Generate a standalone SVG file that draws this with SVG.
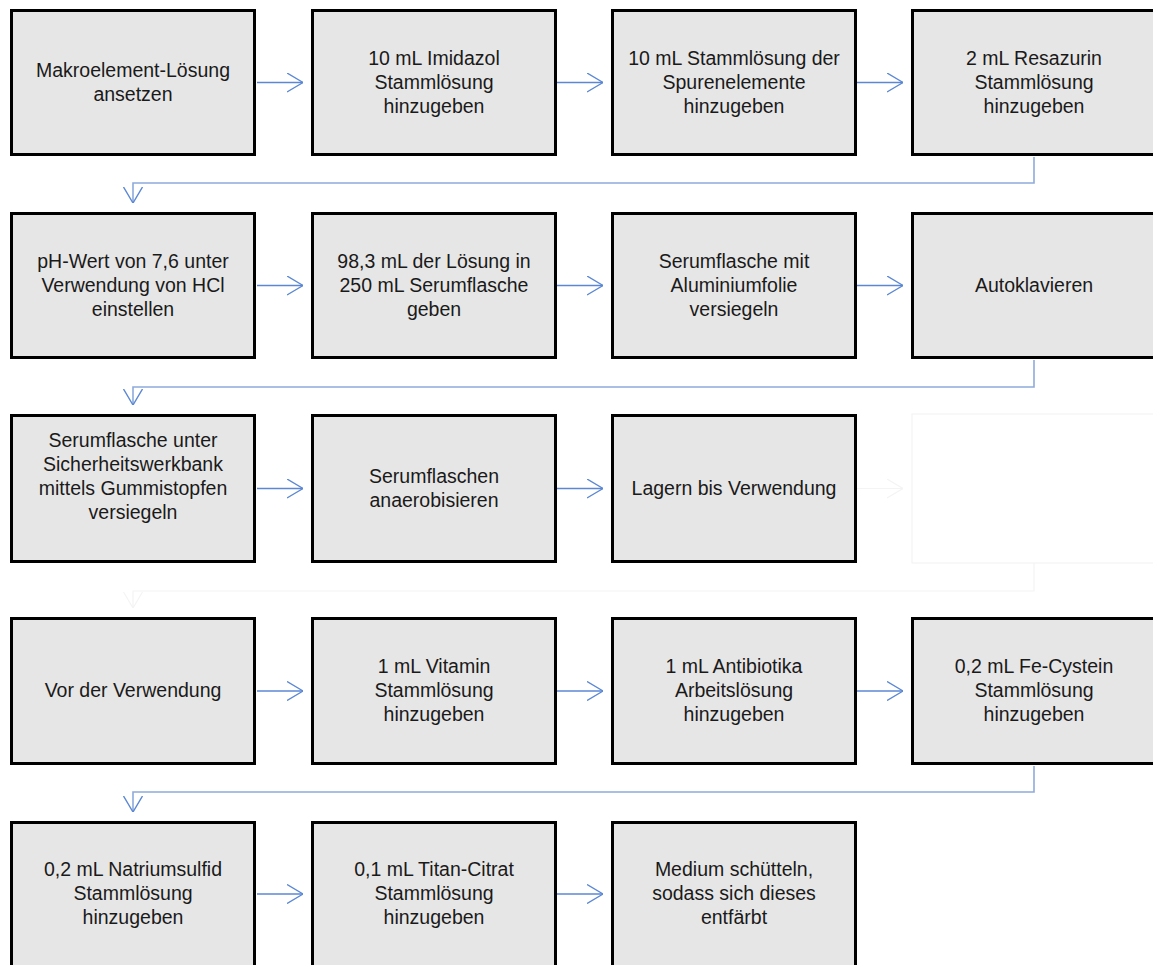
<svg xmlns="http://www.w3.org/2000/svg" width="1153" height="965" viewBox="0 0 1153 965">
<style>
.box{fill:#e7e6e6;stroke:#000;stroke-width:3}
.lbl{font-family:"Liberation Sans",Arial,sans-serif;font-size:19.5px;fill:#1a1a1a;text-anchor:middle}
.con{fill:none;stroke:#5b87d4;stroke-width:1.4}
.wrap{fill:none;stroke:#8eaadc;stroke-width:1.6}
.ghost{fill:none;stroke:#f4f4f4;stroke-width:1.2}
</style>
<defs>
<marker id="ah" viewBox="0 0 16 20" refX="16" refY="10" markerWidth="16" markerHeight="20" markerUnits="userSpaceOnUse" orient="auto">
<path d="M0,0.5 L16,10 L0,19.5" fill="none" stroke="#5b87d4" stroke-width="1.4"/>
</marker>
<marker id="ahg" viewBox="0 0 16 20" refX="16" refY="10" markerWidth="16" markerHeight="20" markerUnits="userSpaceOnUse" orient="auto">
<path d="M0,0.5 L16,10 L0,19.5" fill="none" stroke="#f4f4f4" stroke-width="1.2"/>
</marker>
</defs>

<g id="connectors">
<line class="con" x1="257" y1="82.5" x2="303" y2="82.5" marker-end="url(#ah)"/>
<line class="con" x1="557" y1="82.5" x2="603" y2="82.5" marker-end="url(#ah)"/>
<line class="con" x1="857" y1="82.5" x2="903" y2="82.5" marker-end="url(#ah)"/>
<path class="wrap" d="M1034,157 V183 H133 V203" marker-end="url(#ah)"/>
<line class="con" x1="257" y1="285.5" x2="303" y2="285.5" marker-end="url(#ah)"/>
<line class="con" x1="557" y1="285.5" x2="603" y2="285.5" marker-end="url(#ah)"/>
<line class="con" x1="857" y1="285.5" x2="903" y2="285.5" marker-end="url(#ah)"/>
<path class="wrap" d="M1034,360 V387 H133 V405" marker-end="url(#ah)"/>
<line class="con" x1="257" y1="488.5" x2="303" y2="488.5" marker-end="url(#ah)"/>
<line class="con" x1="557" y1="488.5" x2="603" y2="488.5" marker-end="url(#ah)"/>
<line class="ghost" x1="857" y1="488.5" x2="903" y2="488.5" marker-end="url(#ahg)"/>
<path class="ghost" d="M1034,563 V591 H133 V608" marker-end="url(#ahg)"/>
<line class="con" x1="257" y1="691" x2="303" y2="691" marker-end="url(#ah)"/>
<line class="con" x1="557" y1="691" x2="603" y2="691" marker-end="url(#ah)"/>
<line class="con" x1="857" y1="691" x2="903" y2="691" marker-end="url(#ah)"/>
<path class="wrap" d="M1034,766 V792 H133 V812" marker-end="url(#ah)"/>
<line class="con" x1="257" y1="894" x2="303" y2="894" marker-end="url(#ah)"/>
<line class="con" x1="557" y1="894" x2="603" y2="894" marker-end="url(#ah)"/>
</g>

<g id="n1"><rect class="box" x="11.5" y="10.5" width="243" height="144"/>
<text class="lbl"><tspan x="133" y="76.5">Makroelement-Lösung</tspan><tspan x="133" y="100.5">ansetzen</tspan></text></g>
<g id="n2"><rect class="box" x="312.5" y="10.5" width="243" height="144"/>
<text class="lbl"><tspan x="434" y="64.5">10 mL Imidazol</tspan><tspan x="434" y="88.5">Stammlösung</tspan><tspan x="434" y="112.5">hinzugeben</tspan></text></g>
<g id="n3"><rect class="box" x="612.5" y="10.5" width="243" height="144"/>
<text class="lbl"><tspan x="734" y="64.5">10 mL Stammlösung der</tspan><tspan x="734" y="88.5">Spurenelemente</tspan><tspan x="734" y="112.5">hinzugeben</tspan></text></g>
<g id="n4"><rect class="box" x="912.5" y="10.5" width="243" height="144"/>
<text class="lbl"><tspan x="1034" y="64.5">2 mL Resazurin</tspan><tspan x="1034" y="88.5">Stammlösung</tspan><tspan x="1034" y="112.5">hinzugeben</tspan></text></g>

<g id="n5"><rect class="box" x="11.5" y="213.5" width="243" height="144"/>
<text class="lbl"><tspan x="133" y="267.5">pH-Wert von 7,6 unter</tspan><tspan x="133" y="291.5">Verwendung von HCl</tspan><tspan x="133" y="315.5">einstellen</tspan></text></g>
<g id="n6"><rect class="box" x="312.5" y="213.5" width="243" height="144"/>
<text class="lbl"><tspan x="434" y="267.5">98,3 mL der Lösung in</tspan><tspan x="434" y="291.5">250 mL Serumflasche</tspan><tspan x="434" y="315.5">geben</tspan></text></g>
<g id="n7"><rect class="box" x="612.5" y="213.5" width="243" height="144"/>
<text class="lbl"><tspan x="734" y="267.5">Serumflasche mit</tspan><tspan x="734" y="291.5">Aluminiumfolie</tspan><tspan x="734" y="315.5">versiegeln</tspan></text></g>
<g id="n8"><rect class="box" x="912.5" y="213.5" width="243" height="144"/>
<text class="lbl"><tspan x="1034" y="291.5">Autoklavieren</tspan></text></g>

<g id="n9"><rect class="box" x="11.5" y="415.5" width="243" height="146"/>
<text class="lbl"><tspan x="133" y="446.5">Serumflasche unter</tspan><tspan x="133" y="470.5">Sicherheitswerkbank</tspan><tspan x="133" y="494.5">mittels Gummistopfen</tspan><tspan x="133" y="518.5">versiegeln</tspan></text></g>
<g id="n10"><rect class="box" x="312.5" y="415.5" width="243" height="146"/>
<text class="lbl"><tspan x="434" y="482.5">Serumflaschen</tspan><tspan x="434" y="506.5">anaerobisieren</tspan></text></g>
<g id="n11"><rect class="box" x="612.5" y="415.5" width="243" height="146"/>
<text class="lbl"><tspan x="734" y="494.5">Lagern bis Verwendung</tspan></text></g>
<g id="n12"><rect class="ghost" x="912" y="414" width="250" height="149"/></g>

<g id="n13"><rect class="box" x="11.5" y="618.5" width="243" height="145"/>
<text class="lbl"><tspan x="133" y="697">Vor der Verwendung</tspan></text></g>
<g id="n14"><rect class="box" x="312.5" y="618.5" width="243" height="145"/>
<text class="lbl"><tspan x="434" y="673">1 mL Vitamin</tspan><tspan x="434" y="697">Stammlösung</tspan><tspan x="434" y="721">hinzugeben</tspan></text></g>
<g id="n15"><rect class="box" x="612.5" y="618.5" width="243" height="145"/>
<text class="lbl"><tspan x="734" y="673">1 mL Antibiotika</tspan><tspan x="734" y="697">Arbeitslösung</tspan><tspan x="734" y="721">hinzugeben</tspan></text></g>
<g id="n16"><rect class="box" x="912.5" y="618.5" width="243" height="145"/>
<text class="lbl"><tspan x="1034" y="673">0,2 mL Fe-Cystein</tspan><tspan x="1034" y="697">Stammlösung</tspan><tspan x="1034" y="721">hinzugeben</tspan></text></g>

<g id="n17"><rect class="box" x="11.5" y="822.5" width="243" height="144"/>
<text class="lbl"><tspan x="133" y="876">0,2 mL Natriumsulfid</tspan><tspan x="133" y="900">Stammlösung</tspan><tspan x="133" y="924">hinzugeben</tspan></text></g>
<g id="n18"><rect class="box" x="312.5" y="822.5" width="243" height="144"/>
<text class="lbl"><tspan x="434" y="876">0,1 mL Titan-Citrat</tspan><tspan x="434" y="900">Stammlösung</tspan><tspan x="434" y="924">hinzugeben</tspan></text></g>
<g id="n19"><rect class="box" x="612.5" y="822.5" width="243" height="144"/>
<text class="lbl"><tspan x="734" y="876">Medium schütteln,</tspan><tspan x="734" y="900">sodass sich dieses</tspan><tspan x="734" y="924">entfärbt</tspan></text></g>
</svg>
